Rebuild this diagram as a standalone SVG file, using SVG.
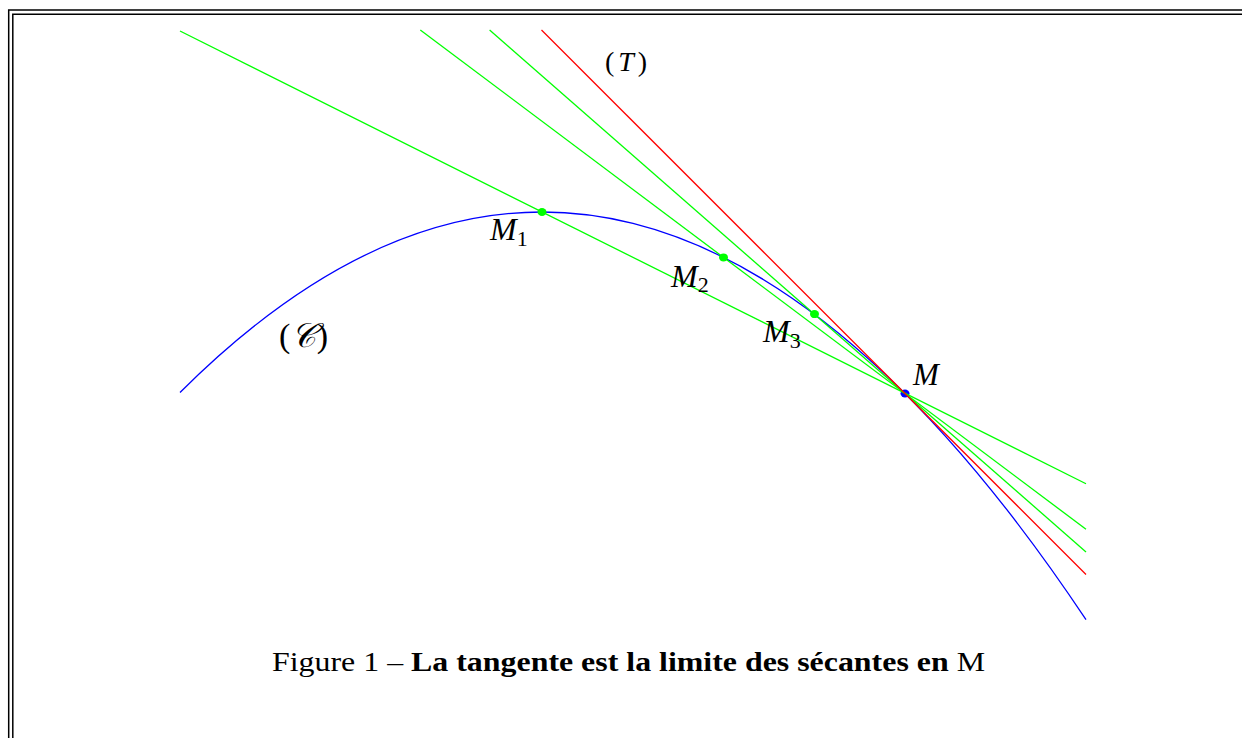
<svg xmlns="http://www.w3.org/2000/svg" width="1242" height="738" viewBox="0 0 1242 738">
<style>
.frame{fill:none;stroke:#000;stroke-width:1.5}
.sec{fill:none;stroke:#00ff00;stroke-width:1.3}
.tan{fill:none;stroke:#ff0000;stroke-width:1.3}
.crv{fill:none;stroke:#0000ff;stroke-width:1.3}
.lbl{font-family:"Liberation Serif",serif;font-style:italic;fill:#000}
.up{font-family:"Liberation Serif",serif;font-style:normal;fill:#000}
.cap{font-family:"Liberation Serif",serif;font-size:28px;fill:#000}
</style>
<rect width="1242" height="738" fill="#fff"/>
<g id="frame">
<path class="frame" d="M8.7,738 V10 H1242"/>
<path class="frame" d="M12.8,738 V14.2 H1242"/>
</g>
<g id="curve">
<path class="crv" d="M180,392.5 Q633,-59.25 1086,619.6"/>
</g>
<g id="pointM">
<ellipse cx="905" cy="393.5" rx="4.5" ry="4" fill="#0000ff"/>
</g>
<g id="connectors">
<line class="sec" x1="180" y1="31" x2="1086" y2="483.75"/>
<line class="sec" x1="420.3" y1="30" x2="1086" y2="529.25"/>
<line class="sec" x1="489.6" y1="30" x2="1086" y2="551.9"/>
<line class="tan" x1="541.5" y1="30" x2="1086" y2="574.5"/>
</g>
<g id="pointM1"><ellipse cx="542" cy="212" rx="4.5" ry="4" fill="#00ff00"/></g>
<g id="pointM2"><ellipse cx="723.5" cy="257.4" rx="4.5" ry="4" fill="#00ff00"/></g>
<g id="pointM3"><ellipse cx="814.5" cy="314.1" rx="4.5" ry="4" fill="#00ff00"/></g>
<g id="labelM1"><text class="lbl" x="490" y="240" font-size="32">M<tspan font-style="normal" font-size="22" dy="6">1</tspan></text></g>
<g id="labelM2"><text class="lbl" x="671" y="287" font-size="32">M<tspan font-style="normal" font-size="22" dy="5">2</tspan></text></g>
<g id="labelM3"><text class="lbl" x="763" y="342" font-size="32">M<tspan font-style="normal" font-size="22" dy="6">3</tspan></text></g>
<g id="labelM"><text class="lbl" x="913" y="385" font-size="31">M</text></g>
<g id="labelT"><text class="up" x="605" y="71" font-size="28" textLength="42" lengthAdjust="spacing">(<tspan font-style="italic">T</tspan>)</text></g>
<g id="labelC"><text class="up" x="279" y="347" font-size="34" textLength="49" lengthAdjust="spacing">(<tspan font-style="italic">𝒞</tspan>)</text></g>
<g id="caption"><text class="cap" x="272" y="671" textLength="713" lengthAdjust="spacingAndGlyphs">Figure 1 – <tspan font-weight="bold">La tangente est la limite des sécantes en</tspan> M</text></g>
</svg>
